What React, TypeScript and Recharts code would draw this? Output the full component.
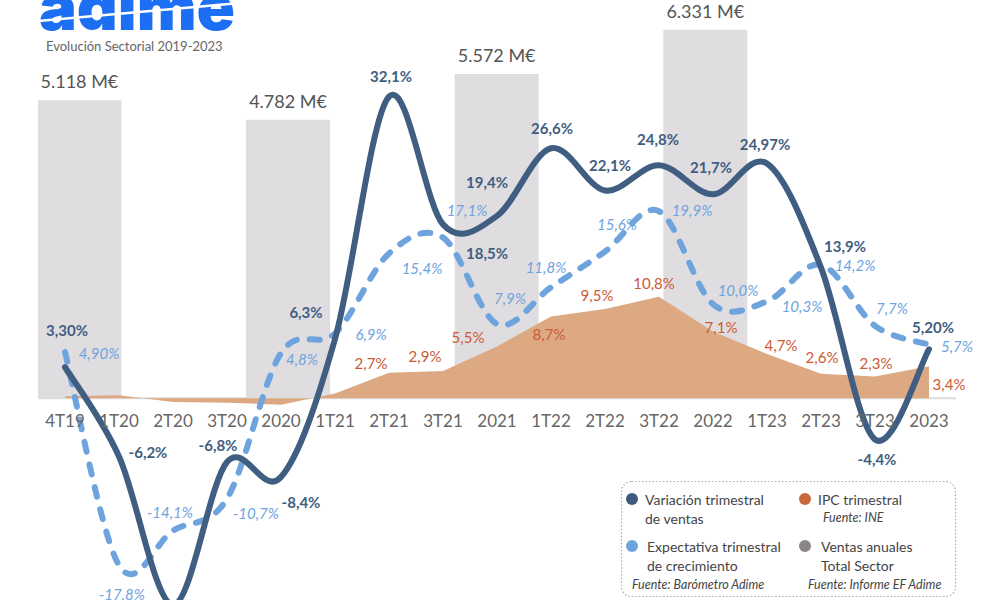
import React from 'react';
import { ComposedChart, Bar, Line, Area, XAxis, YAxis, ReferenceLine, LabelList } from 'recharts';

// ---------- DATA ----------
const quarters = ['4T19', '1T20', '2T20', '3T20', '2020', '1T21', '2T21', '3T21', '2021', '1T22', '2T22', '3T22', '2022', '1T23', '2T23', '3T23', '2023'];

const ventasVar = [3.3, -6.2, -22.0, -6.8, -8.4, 6.3, 32.1, 18.5, 19.4, 26.6, 22.1, 24.8, 21.7, 24.97, 13.9, -4.4, 5.2];
const ventasVarLabels = ['3,30%', '-6,2%', '', '-6,8%', '-8,4%', '6,3%', '32,1%', '18,5%', '19,4%', '26,6%', '22,1%', '24,8%', '21,7%', '24,97%', '13,9%', '-4,4%', '5,20%'];

const expectativa = [4.9, -17.8, -14.1, -10.7, 4.8, 6.9, 15.4, 17.1, 7.9, 11.8, 15.6, 19.9, 10.0, 10.3, 14.2, 7.7, 5.7];
const expectativaLabels = ['4,90%', '-17,8%', '-14,1%', '-10,7%', '4,8%', '6,9%', '15,4%', '17,1%', '7,9%', '11,8%', '15,6%', '19,9%', '10,0%', '10,3%', '14,2%', '7,7%', '5,7%'];

const ipc = [0.2, 0.3, -0.4, -0.5, -0.7, 0.5, 2.7, 2.9, 5.5, 8.7, 9.5, 10.8, 7.1, 4.7, 2.6, 2.3, 3.4];
const ipcLabels = ['', '', '', '', '', '', '2,7%', '2,9%', '5,5%', '8,7%', '9,5%', '10,8%', '7,1%', '4,7%', '2,6%', '2,3%', '3,4%'];

const annualCategories = ['4T19', '2020', '2021', '2022'];
const annualYears = [2019, 2020, 2021, 2022];
const ventasAnuales = [5118, 4782, 5572, 6331];

// ---------- LAYOUT / STYLE ----------
const darkOffsets = [[2, -37], [29, -4], [0, 30], [-9, -17], [20, 25], [-29, -27], [2, -21], [44, 29], [-10, -34], [1, -20], [5, -26], [-1, -26], [-2, -27], [-2, -20], [24, -22], [2, 20], [4, -22]];
const blueOffsets = [[34, 1], [3, 29], [-3, -19], [29, 14], [21, 6], [36, 1], [33, 15], [24, -28], [13, -26], [-5, -20], [12, -28], [33, -1], [25, -14], [35, 5], [34, 0], [17, -18], [28, 1]];
const ipcOffsets = [[0, 0], [0, 0], [0, 0], [0, 0], [0, 0], [0, 0], [-18, -10], [-18, -15], [-29, -9], [-2, 18], [-8, -14], [-5, -14], [8, -4], [14, -9], [1, -17], [1, -14], [20, 18]];

const FONT = 'Lato, "Open Sans", sans-serif';
const DARK = '#3f5e82';
const LIGHT = '#6ea3de';
const IPC_FILL = '#dca983';
const IPC_TEXT = '#cc5a34';
const BAR_FILL = '#dfdddf';

const W = 1000;
const MARGIN = { top: 13, right: 44, bottom: 0, left: 38 };
const PLOT_H = 620;
const XAXIS_H = 1;
const H = MARGIN.top + PLOT_H + XAXIS_H + MARGIN.bottom;
const PCT_DOMAIN: [number, number] = [-25, 41];
const SALES_DOMAIN: [number, number] = [-4035, 6618];
const YEAR_DOMAIN: [number, number] = [2018.8, 2023.2];
const ZERO_Y = MARGIN.top + (PLOT_H * PCT_DOMAIN[1]) / (PCT_DOMAIN[1] - PCT_DOMAIN[0]);

const data = quarters.map((q, i) => {
  const a = annualCategories.indexOf(q);
  return {
    q,
    ventas: ventasVar[i],
    expectativa: expectativa[i],
    ipc: ipc[i],
    year: a >= 0 ? annualYears[a] : undefined,
    anual: a >= 0 ? ventasAnuales[a] : null,
  };
});

// Catmull-Rom style smoothing (like spreadsheet "smoothed line")
const smoothCurve: any = (context: any) => {
  let pts: number[][] = [];
  return {
    areaStart() {},
    areaEnd() {},
    lineStart() {
      pts = [];
    },
    point(x: number, y: number) {
      pts.push([+x, +y]);
    },
    lineEnd() {
      const n = pts.length;
      if (!n) return;
      context.moveTo(pts[0][0], pts[0][1]);
      if (n === 1) return;
      for (let i = 0; i < n - 1; i++) {
        const p0 = pts[i - 1] || pts[i];
        const p1 = pts[i];
        const p2 = pts[i + 1];
        const p3 = pts[i + 2] || pts[i + 1];
        const c1x = p1[0] + (p2[0] - p0[0]) / 6;
        const c1y = p1[1] + (p2[1] - p0[1]) / 6;
        const c2x = p2[0] - (p3[0] - p1[0]) / 6;
        const c2y = p2[1] - (p3[1] - p1[1]) / 6;
        context.bezierCurveTo(c1x, c1y, c2x, c2y, p2[0], p2[1]);
      }
    },
  };
};

const makePointLabel = (labels: string[], offsets: number[][], style: any) => (props: any) => {
  const { x, y, index } = props;
  const t = labels[index];
  if (!t || x == null || y == null) return null;
  const [dx, dy] = offsets[index];
  return (
    <text
      key={`l-${index}`}
      x={Number(x) + dx}
      y={Number(y) + dy}
      textAnchor="middle"
      dominantBaseline="central"
      fontFamily={FONT}
      {...style}
    >
      {t}
    </text>
  );
};

const formatSales = (v: number) => {
  const th = Math.floor(v / 1000);
  const rest = String(v % 1000).padStart(3, '0');
  return `${th}.${rest} M€`;
};

const BarLabel = (props: any) => {
  const { x, y, width, value, index } = props;
  if (value == null || x == null) return null;
  return (
    <text
      key={`b-${index}`}
      x={Number(x) + Number(width) / 2}
      y={Number(y) - 19}
      textAnchor="middle"
      dominantBaseline="central"
      fontFamily={FONT}
      fontSize={18}
      fill="#555"
    >
      {formatSales(Number(value))}
    </text>
  );
};

const XTick = (props: any) => {
  const { x, payload } = props;
  return (
    <text x={x} y={ZERO_Y + 22} textAnchor="middle" dominantBaseline="central" fontFamily={FONT} fontSize={17} fill="#666">
      {payload.value}
    </text>
  );
};

const Legend = () => (
  <svg width={1000} height={600} style={{ position: 'absolute', left: 0, top: 0, pointerEvents: 'none' }}>
    <rect x={621.5} y={481.5} width={334} height={115} rx={10} ry={10} fill="none" stroke="#a9a9a9" strokeWidth={1.2} strokeDasharray="1.5 2" />
    <g fontFamily={FONT} fill="#444" fontSize={14}>
      <circle cx={632} cy={499} r={6} fill="#3d5a7c" />
      <text x={645} y={499} dominantBaseline="central">Variación trimestral</text>
      <text x={645} y={518} dominantBaseline="central">de ventas</text>

      <circle cx={805} cy={499} r={6} fill="#c9683a" />
      <text x={818} y={499} dominantBaseline="central">IPC trimestral</text>
      <text x={823} y={517} dominantBaseline="central" fontSize={12.5} fontStyle="italic">Fuente: INE</text>

      <circle cx={632} cy={546} r={6} fill="#6ea3de" />
      <text x={647} y={546} dominantBaseline="central">Expectativa trimestral</text>
      <text x={647} y={565} dominantBaseline="central">de crecimiento</text>

      <circle cx={805} cy={546} r={6} fill="#8a8687" />
      <text x={821} y={546} dominantBaseline="central">Ventas anuales</text>
      <text x={821} y={565} dominantBaseline="central">Total Sector</text>

      <text x={632} y={584} dominantBaseline="central" fontSize={12.5} fontStyle="italic">Fuente: Barómetro Adime</text>
      <text x={808} y={584} dominantBaseline="central" fontSize={12.5} fontStyle="italic">Fuente: Informe EF Adime</text>
    </g>
  </svg>
);

const Header = () => (
  <svg width={400} height={60} style={{ position: 'absolute', left: 0, top: 0, pointerEvents: 'none' }}>
    <text x={39} y={30} fontFamily="Inter, sans-serif" fontWeight={900} fontSize={64} fill="#1c6ef2" textLength={196} lengthAdjust="spacingAndGlyphs">
      adime
    </text>
    <line x1={38} y1={21} x2={240} y2={3} stroke="#fff" strokeWidth={2.5} />
    <text x={46} y={51} fontFamily={FONT} fontSize={13} fill="#666">
      Evolución Sectorial 2019-2023
    </text>
  </svg>
);

export default function App() {
  return (
    <div style={{ position: 'fixed', left: 0, top: 0, width: 1000, height: 600, overflow: 'hidden', background: '#fff' }}>
      <div style={{ position: 'absolute', left: 0, top: 0 }}>
        <ComposedChart width={W} height={H} data={data} margin={MARGIN}>
          <XAxis xAxisId="cat" dataKey="q" type="category" interval={0} height={XAXIS_H} axisLine={false} tickLine={false} tick={<XTick />} zIndex={250} />
          <XAxis xAxisId="yr" dataKey="year" type="number" domain={YEAR_DOMAIN} allowDataOverflow hide />
          <YAxis yAxisId="pct" type="number" domain={PCT_DOMAIN} allowDataOverflow hide />
          <YAxis yAxisId="sales" type="number" domain={SALES_DOMAIN} allowDataOverflow hide />
          <Bar xAxisId="yr" yAxisId="sales" dataKey="anual" fill={BAR_FILL} barSize={84} isAnimationActive={false} zIndex={100}>
            <LabelList dataKey="anual" content={BarLabel} />
          </Bar>
          <ReferenceLine xAxisId="cat" yAxisId="pct" y={0} stroke="#dcdcdc" strokeWidth={2} zIndex={150} />
          <Area
            xAxisId="cat"
            yAxisId="pct"
            dataKey="ipc"
            type="linear"
            baseValue={0}
            stroke="none"
            fill={IPC_FILL}
            fillOpacity={1}
            isAnimationActive={false}
            dot={false}
            activeDot={false}
            zIndex={200}
          >
            <LabelList dataKey="ipc" content={makePointLabel(ipcLabels, ipcOffsets, { fontSize: 15, fill: IPC_TEXT })} />
          </Area>
          <Line
            xAxisId="cat"
            yAxisId="pct"
            dataKey="expectativa"
            type={smoothCurve}
            stroke={LIGHT}
            strokeWidth={6}
            strokeDasharray="10 13"
            strokeLinecap="round"
            dot={false}
            activeDot={false}
            isAnimationActive={false}
          >
            <LabelList dataKey="expectativa" content={makePointLabel(expectativaLabels, blueOffsets, { fontSize: 15, fill: LIGHT, fontStyle: 'italic' })} />
          </Line>
          <Line
            xAxisId="cat"
            yAxisId="pct"
            dataKey="ventas"
            type={smoothCurve}
            stroke={DARK}
            strokeWidth={6}
            strokeLinecap="round"
            dot={false}
            activeDot={false}
            isAnimationActive={false}
          >
            <LabelList dataKey="ventas" content={makePointLabel(ventasVarLabels, darkOffsets, { fontSize: 15, fill: DARK, fontWeight: 700 })} />
          </Line>
        </ComposedChart>
      </div>
      <Header />
      <Legend />
    </div>
  );
}
